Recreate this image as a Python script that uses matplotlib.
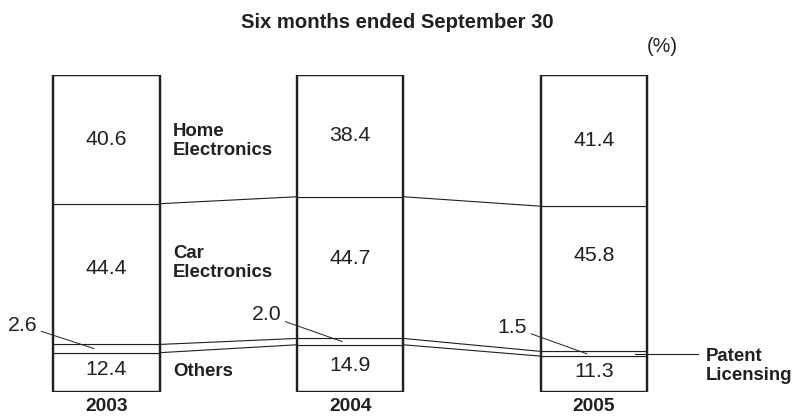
import numpy as np
import matplotlib
matplotlib.use("Agg")
import matplotlib.pyplot as plt

plt.rcParams['font.family'] = ['Liberation Sans', 'DejaVu Sans']

years = ['2003', '2004', '2005']
others = [12.4, 14.9, 11.3]
patent = [2.6, 2.0, 1.5]
car = [44.4, 44.7, 45.8]
home = [40.6, 38.4, 41.4]
# where the car value sits inside its segment
car_label_y = [39.1, 42.0, 43.2]

segments = [others, patent, car, home]
ink = '#231f20'

fig = plt.figure(figsize=(7.94, 4.16), dpi=100)
# axes spans the whole width, y from bar bottom to bar top
ax = fig.add_axes([0, 24 / 416, 1, 317 / 416])
ax.set_xlim(-106.5 / 243.75, (794 - 106.5) / 243.75)
ax.set_ylim(0, 100)
ax.axis('off')

x = np.arange(len(years))
w = 0.435

# stacked segments
bottom = np.zeros(len(years))
for seg in segments:
    ax.bar(x, seg, w, bottom=bottom, facecolor='white', edgecolor=ink, linewidth=0.8, zorder=2)
    bottom += np.array(seg)
# outer frame
ax.bar(x, bottom, w, facecolor='none', edgecolor=ink, linewidth=1.7, zorder=3)

# connection lines between the bars
cum = np.cumsum(np.array(segments), axis=0)
for level in cum[:-1]:
    for i in range(len(years) - 1):
        ax.plot([x[i] + w / 2, x[i + 1] - w / 2], [level[i], level[i + 1]],
                color=ink, linewidth=0.8, zorder=1)

# values inside bars
vsize = 15.3
for i in range(len(years)):
    ax.text(x[i], others[i] / 2 + 0.9, f'{others[i]:.1f}', ha='center', va='center', fontsize=vsize, color=ink)
    ax.text(x[i], car_label_y[i], f'{car[i]:.1f}', ha='center', va='center', fontsize=vsize, color=ink)
    ax.text(x[i], 100 - home[i] / 2, f'{home[i]:.1f}', ha='center', va='center', fontsize=vsize, color=ink)

# small patent values with leader lines
label_dx = [-0.285, -0.283, -0.275]
label_y = [21.1, 24.3, 20.5]
point_dx = [-0.051, -0.033, -0.029]
for i in range(len(years)):
    mid = others[i] + patent[i] / 2
    ax.annotate(f'{patent[i]:.1f}', xy=(x[i] + point_dx[i], mid),
                xytext=(x[i] + label_dx[i], label_y[i]), ha='right', va='center',
                fontsize=vsize, color=ink,
                arrowprops=dict(arrowstyle='-', color=ink, lw=0.7, shrinkA=1, shrinkB=0))

# category names
nsize = 13.4
ax.text(0.273, 79.2, 'Home\nElectronics', ha='left', va='center', fontsize=nsize, fontweight='bold',
        color=ink, linespacing=1.15)
ax.text(0.273, 40.8, 'Car\nElectronics', ha='left', va='center', fontsize=nsize, fontweight='bold',
        color=ink, linespacing=1.15)
ax.text(0.273, 6.6, 'Others', ha='left', va='center', fontsize=nsize, fontweight='bold', color=ink)

# patent licensing callout on the right
pmid = others[2] + patent[2] / 2
ax.plot([x[2] + 0.168, x[2] + 0.427], [pmid, pmid], color=ink, linewidth=0.8, zorder=4)
ax.text(x[2] + 0.459, 8.2, 'Patent\nLicensing', ha='left', va='center', fontsize=nsize,
        fontweight='bold', color=ink, linespacing=1.15)

# year labels
for i, yr in enumerate(years):
    ax.text(x[i], -4.6, yr, ha='center', va='center', fontsize=13.8, fontweight='bold', color=ink)

fig.text(397 / 794, 1 - 23 / 416, 'Six months ended September 30', ha='center', va='center',
         fontsize=14.6, fontweight='bold', color=ink)
fig.text(678 / 794, 1 - 47 / 416, '(%)', ha='right', va='center', fontsize=14.3, color=ink)

fig.savefig('out.png', dpi=100)
